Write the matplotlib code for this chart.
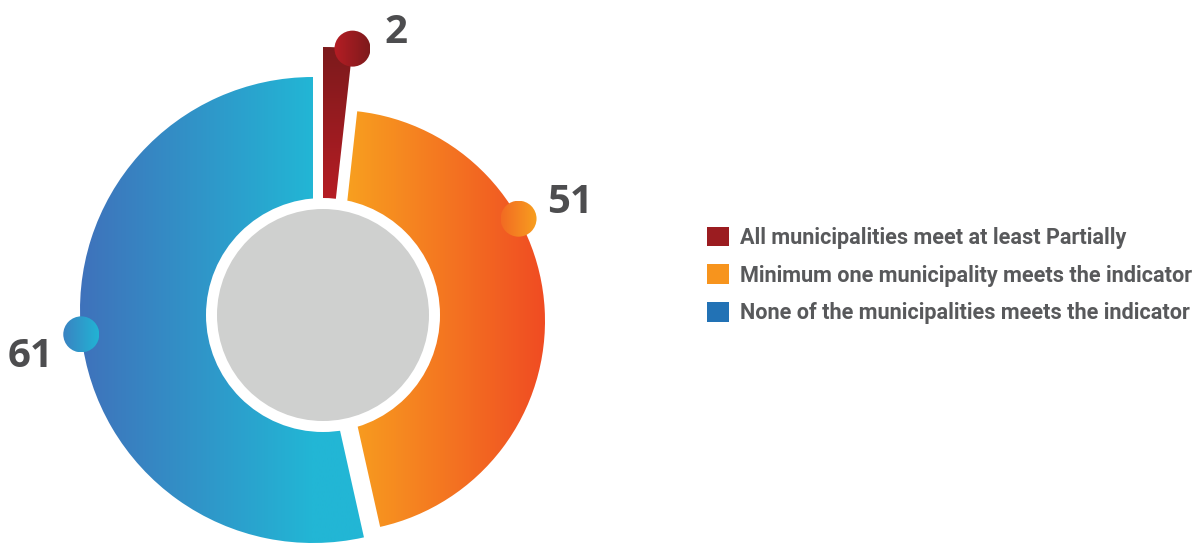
import numpy as np
import matplotlib
matplotlib.use("Agg")
import matplotlib.pyplot as plt
from matplotlib.patches import Wedge, Circle, Patch
from matplotlib.colors import LinearSegmentedColormap

# data
categories = ["All municipalities meet at least Partially",
              "Minimum one municipality meets the indicator",
              "None of the municipalities meets the indicator"]
values = [2, 51, 61]
legend_colors = ["#9b1c20", "#f7941d", "#2272b5"]

# styling per slice
radii = [268, 211, 233]
shifts = [(0, 0), (11, -6), (-10, 5)]
grad_colors = [("#b51d24", "#7c1a1c"), ("#f8a01f", "#f04c23"), ("#3f72bb", "#22b6d5")]
dot_colors = [("#b51d24", "#7e1a1c"), ("#f26b23", "#f89f1f"), ("#3a83c2", "#22b3d4")]
dot_angle = [None, 29, 186]
label_offsets = [(43, 6), (51, 6), (-51, -33)]
text_color = "#4d4d4f"

W, H = 1204, 550
center = (323, 235)

fig = plt.figure(figsize=(W / 100, H / 100), dpi=100)
ax = fig.add_axes([0, 0, 1, 1])
ax.set_xlim(0, W)
ax.set_ylim(0, H)
ax.axis("off")


def fill_gradient(patch, c0, c1, box, g0, g1, vertical=False, zorder=2):
    """Fill patch with a linear gradient c0->c1 running from g0 to g1."""
    ax.add_patch(patch)
    cmap = LinearSegmentedColormap.from_list("g", [c0, c1])
    x0, x1, y0, y1 = box
    if vertical:
        t = np.clip((np.linspace(y0, y1, 300) - g0) / (g1 - g0), 0, 1)[:, None]
    else:
        t = np.clip((np.linspace(x0, x1, 300) - g0) / (g1 - g0), 0, 1)[None, :]
    im = ax.imshow(t, cmap=cmap, vmin=0, vmax=1, extent=box, origin="lower",
                   aspect="auto", zorder=zorder, interpolation="bilinear")
    im.set_clip_path(patch)


spans = np.array(values) / sum(values) * 360
start = 90.0
for i, v in enumerate(values):
    t2 = start
    t1 = start - spans[i]
    start = t1
    cx = center[0] + shifts[i][0]
    cy = center[1] + shifts[i][1]
    r = radii[i]
    wedge = Wedge((cx, cy), r, t1, t2, facecolor="none", edgecolor="none")
    box = (cx - r, cx + r, cy - r, cy + r)
    c0, c1 = grad_colors[i]
    if i == 0:
        # red bar: bright at the bottom, dark at the top
        fill_gradient(wedge, c0, c1, box, cy + 117, cy + r, vertical=True)
    elif i == 1:
        fill_gradient(wedge, c0, c1, box, cx + 12, cx + r)
    else:
        fill_gradient(wedge, c0, c1, box, cx - r, cx)

    # dot marker on the outer edge
    a = np.deg2rad(t1 if dot_angle[i] is None else dot_angle[i])
    dx, dy = cx + r * np.cos(a), cy + r * np.sin(a)
    dot = Circle((dx, dy), 18, facecolor="none", edgecolor="none")
    d0, d1 = dot_colors[i]
    fill_gradient(dot, d0, d1, (dx - 18, dx + 18, dy - 18, dy + 18),
                  dx - 18, dx + 18, zorder=4)

    ax.text(dx + label_offsets[i][0], dy + label_offsets[i][1], str(v),
            ha="center", va="baseline", fontsize=29, fontweight="bold",
            family="Open Sans", color=text_color, zorder=5)

# donut centre
ax.add_patch(Circle(center, 117, facecolor="white", edgecolor="none", zorder=3))
ax.add_patch(Circle(center, 106, facecolor="#cfd0cf", edgecolor="none", zorder=3))

handles = [Patch(facecolor=c, edgecolor="none") for c in legend_colors]
ax.legend(handles, categories, loc="center left",
          bbox_to_anchor=(707 / W, (H - 275.5) / H), frameon=False,
          prop={"family": "Roboto", "weight": "bold", "size": 15.6},
          labelcolor="#58595b", handlelength=1.0, handleheight=1.0,
          handletextpad=0.5, labelspacing=0.72, borderpad=0, borderaxespad=0)

fig.savefig("out.png", dpi=100)
